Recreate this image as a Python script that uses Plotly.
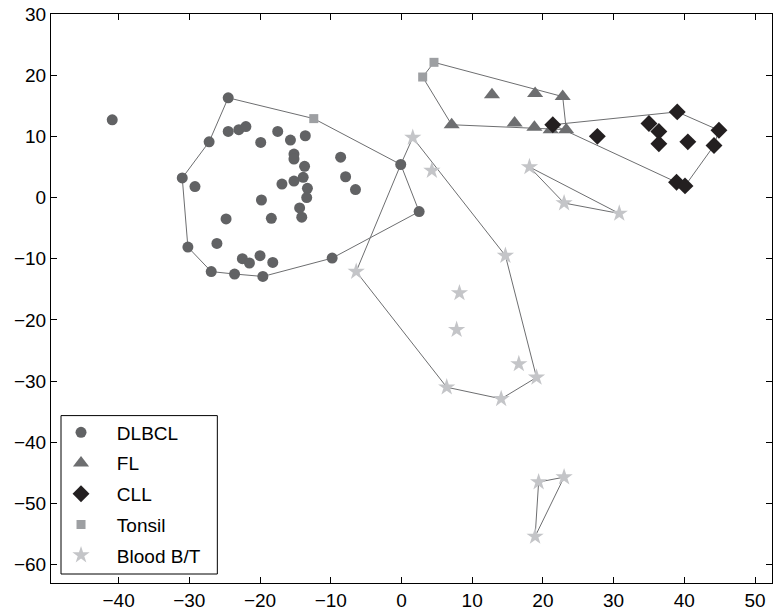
import plotly.graph_objects as go

# ---- data ----
dlbcl_x = [-40.9, -24.5, -24.5, -23.0, -22.0, -27.2, -19.9, -17.5, -15.7, -13.6,
           -15.2, -15.2, -13.7, -8.6, -7.9, -6.5, -31.0, -29.2, -16.9, -15.2,
           -13.9, -13.3, -13.4, -14.4, -14.1, -19.8, -24.8, -18.4, -30.2, -26.1,
           -22.5, -21.5, -20.0, -18.2, -26.9, -23.6, -19.6, -9.8, -0.1, 2.5]
dlbcl_y = [12.7, 16.3, 10.8, 11.1, 11.6, 9.1, 9.0, 10.8, 9.4, 10.1,
           7.1, 6.3, 5.1, 6.6, 3.4, 1.3, 3.2, 1.8, 2.2, 2.7,
           3.3, 1.5, 0.0, -1.7, -3.2, -0.4, -3.5, -3.4, -8.1, -7.5,
           -10.0, -10.7, -9.5, -10.6, -12.1, -12.5, -12.9, -9.9, 5.4, -2.3]

fl_x = [12.8, 18.9, 22.8, 7.1, 16.0, 18.8, 21.1, 23.3]
fl_y = [16.8, 17.0, 16.5, 11.9, 12.2, 11.5, 11.1, 11.1]

cll_x = [21.4, 27.7, 35.0, 36.4, 36.4, 39.0, 40.5, 44.9, 44.2, 38.9, 40.1]
cll_y = [11.9, 10.0, 12.1, 10.8, 8.8, 14.0, 9.1, 11.0, 8.5, 2.5, 1.9]

tonsil_x = [-12.4, 3.0, 4.6]
tonsil_y = [12.9, 19.7, 22.1]

blood_x = [1.6, 4.3, -6.4, 14.7, 8.2, 7.8, 16.6, 19.1, 6.4, 14.1,
           18.1, 23.0, 30.8, 19.4, 23.0, 18.9]
blood_y = [9.8, 4.4, -12.1, -9.5, -15.6, -21.6, -27.2, -29.4, -31.0, -32.9,
           5.0, -0.9, -2.6, -46.5, -45.7, -55.4]

# cluster outlines: ordered references (group, point index) into the arrays above
hulls = [
    [("D", 1), ("T", 0), ("D", 38), ("D", 39), ("D", 37), ("D", 36), ("D", 35),
     ("D", 34), ("D", 28), ("D", 16), ("D", 5), ("D", 1)],
    [("T", 2), ("F", 2), ("F", 7), ("F", 3), ("T", 1), ("T", 2)],
    [("C", 0), ("C", 5), ("C", 7), ("C", 8), ("C", 10), ("C", 9), ("C", 0)],
    [("B", 0), ("B", 3), ("B", 7), ("B", 9), ("B", 8), ("B", 2), ("D", 38), ("B", 0)],
    [("B", 10), ("B", 11), ("B", 12), ("B", 10)],
    [("B", 13), ("B", 14), ("B", 15), ("B", 13)],
]

groups = {
    "D": ("DLBCL", dlbcl_x, dlbcl_y, "circle", 11, "#616264"),
    "F": ("FL", fl_x, fl_y, "triangle-up", 14, "#6d6e70"),
    "C": ("CLL", cll_x, cll_y, "diamond", 13, "#231f20"),
    "T": ("Tonsil", tonsil_x, tonsil_y, "square", 9, "#9d9fa2"),
    "B": ("Blood B/T", blood_x, blood_y, "star", 13, "#c4c5c8"),
}

FONT = "Liberation Sans, Arial, Helvetica, sans-serif"
FS = 19
PAD = "\u00a0\u00a0\u00a0"

fig = go.Figure()

for hull in hulls:
    hx = [groups[g][1][i] for g, i in hull]
    hy = [groups[g][2][i] for g, i in hull]
    fig.add_trace(go.Scatter(x=hx, y=hy, mode="lines",
                             line=dict(color="#6d6e70", width=1),
                             showlegend=False, hoverinfo="skip"))

for key in ["D", "F", "C", "T", "B"]:
    name, xs, ys, sym, size, col = groups[key]
    fig.add_trace(go.Scatter(x=xs, y=ys, mode="markers", name=PAD + name,
                             legendgroup=name,
                             marker=dict(symbol=sym, size=size, color=col,
                                         line=dict(width=0))))

axis_common = dict(
    showgrid=False, zeroline=False, showline=True, linecolor="black",
    linewidth=1, mirror="ticks", ticks="inside", ticklen=6,
    tickcolor="black", tickwidth=1,
    tickfont=dict(family=FONT, size=FS, color="black"),
)

fig.update_layout(
    width=773, height=613,
    margin=dict(l=51, r=1, t=14, b=30, autoexpand=False),
    paper_bgcolor="white", plot_bgcolor="white",
    font=dict(family=FONT, size=FS, color="black"),
    xaxis=dict(range=[-49.56, 52.4], tickvals=[-40, -30, -20, -10, 0, 10, 20, 30, 40, 50],
               automargin=False, **axis_common),
    yaxis=dict(range=[-63, 30], tickvals=[-60, -50, -40, -30, -20, -10, 0, 10, 20, 30],
               automargin=False, **axis_common),
    legend=dict(x=0.0139, y=0.298, xanchor="left", yanchor="top",
                bgcolor="rgba(0,0,0,0)", borderwidth=0,
                font=dict(family=FONT, size=FS, color="black"),
                tracegroupgap=3, itemwidth=30),
    shapes=[dict(type="rect", xref="paper", yref="paper",
                 x0=0.01387, x1=0.2307, y0=0.0158, y1=0.2942,
                 line=dict(color="black", width=1), fillcolor="white",
                 layer="above")],
    showlegend=True,
)

fig.write_html("out.html")
